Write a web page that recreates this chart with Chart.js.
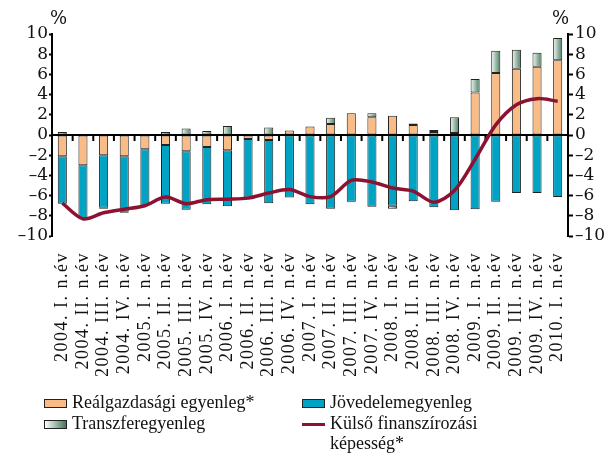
<!DOCTYPE html>
<html>
<head>
<meta charset="utf-8">
<script src="https://cdn.jsdelivr.net/npm/chart.js@4"></script>
<style>
  body { margin: 0; background: #fff; }
  #wrap { position: relative; width: 611px; height: 456px; }
  #legend { position: absolute; left: 0; top: 392px; width: 611px; font-family: "Liberation Serif", serif; font-size: 18px; color: #111; }
  .item { position: absolute; display: flex; align-items: flex-start; line-height: 20px; }
  .box { width: 21px; height: 7px; border: 1px solid #222; margin-top: 7px; margin-right: 5px; flex: none; }
  .ln { width: 23px; height: 3px; margin-top: 10px; margin-right: 5px; flex: none; }
</style>
</head>
<body>
<div id="wrap">
  <canvas id="chart" width="611" height="456"></canvas>
  <div id="legend"></div>
</div>
<script>
const quarters = ["2004. I. n.év", "2004. II. n.év", "2004. III. n.év", "2004. IV. n.év",
    "2005. I. n.év", "2005. II. n.év", "2005. III. n.év", "2005. IV. n.év",
    "2006. I. n.év", "2006. II. n.év", "2006. III. n.év", "2006. IV. n.év",
    "2007. I. n.év", "2007. II. n.év", "2007. III. n.év", "2007. IV. n.év",
    "2008. I. n.év", "2008. II. n.év", "2008. III. n.év", "2008. IV. n.év",
    "2009. I. n.év", "2009. II. n.év", "2009. III. n.év", "2009. IV. n.év",
    "2010. I. n.év"];

const realgazdasagi = [-2.1, -3.0, -2.0, -2.1, -1.4, -1.0, -1.6, -1.2, -1.5, -0.4, -0.5, 0.45, 0.85,
    1.1, 2.15, 1.75, 1.9, 1.0, 0.3, 0.2, 4.2, 6.15, 6.55, 6.75, 7.4];
const jovedelem = [-4.7, -5.25, -5.2, -5.5, -5.65, -5.8, -5.8, -5.65, -5.55, -5.8, -6.25, -6.2, -6.85,
    -7.3, -6.6, -7.1, -7.0, -6.55, -7.15, -7.45, -7.35, -6.6, -5.75, -5.75, -6.15];
const transzfer = [0.3, -0.1, -0.1, -0.1, 0.05, 0.3, 0.65, 0.4, 0.9, 0, 0.75, 0, 0,
    0.6, -0.05, 0.4, -0.3, 0.15, 0.2, 1.55, 1.35, 2.2, 1.9, 1.4, 2.2];
const kulsoFin = [-6.75, -8.3, -7.7, -7.35, -7.0, -6.15, -6.8, -6.4, -6.35, -6.25, -5.75, -5.4, -6.1,
    -6.1, -4.5, -4.65, -5.25, -5.55, -6.65, -5.5, -2.4, 1.0, 3.0, 3.6, 3.35];

const yTicks = [-10, -8, -6, -4, -2, 0, 2, 4, 6, 8, 10];

const orange = '#F9BC86';
const blue = '#00A3C4';
const green = '#3f7a58';
const lineRed = '#8C1232';
const edge = '#222';

// white -> green gradient across each transfer bar
function transferFill(ctx) {
    const chart = ctx.chart;
    const xs = chart.scales.x;
    if (!xs || ctx.dataIndex === undefined) return '#9fc2ad';
    const cx = xs.getPixelForValue(ctx.dataIndex);
    if (!isFinite(cx)) return '#9fc2ad';
    const g = chart.ctx.createLinearGradient(cx - 5, 0, cx + 5, 0);
    g.addColorStop(0, '#ffffff');
    g.addColorStop(1, green);
    return g;
}

const tickFont = { family: 'DejaVu Serif', size: 17 };

const extras = {
    id: 'extras',
    afterLayout(chart) {
        // quarter labels in the original are set a little loose
        const xs = chart.scales.x;
        if (xs._loose) return;
        const orig = xs.drawLabels;
        xs.drawLabels = function (area) {
            this.ctx.save();
            this.ctx.letterSpacing = '1.5px';
            orig.call(this, area);
            this.ctx.restore();
        };
        xs._loose = true;
    },
    afterDatasetDraw(chart, args) {
        // zero line over the bars, before the line series
        if (args.index !== 0) return;
        const c = chart.ctx;
        const a = chart.chartArea;
        const xs = chart.scales.x;
        const y0 = chart.scales.y.getPixelForValue(0);
        c.save();
        c.strokeStyle = '#000';
        c.lineWidth = 2;
        c.beginPath();
        c.moveTo(a.left, y0);
        c.lineTo(a.right, y0);
        c.stroke();
        for (let i = 0; i < quarters.length - 1; i++) {
            const bx = (xs.getPixelForValue(i) + xs.getPixelForValue(i + 1)) / 2;
            c.beginPath();
            c.moveTo(bx, y0);
            c.lineTo(bx, y0 + 6);
            c.stroke();
        }
        c.restore();
    },
    afterDraw(chart) {
        const c = chart.ctx;
        const a = chart.chartArea;
        c.save();
        c.fillStyle = '#111';
        c.font = '18px "DejaVu Serif"';
        c.textBaseline = 'bottom';
        c.textAlign = 'left';
        c.fillText('%', a.left - 2, a.top - 6);
        c.textAlign = 'right';
        c.fillText('%', a.right + 1, a.top - 6);
        c.restore();
    }
};

const dashLabel = v => (v < 0 ? '\u2013' + Math.abs(v) : String(v));

const chart = new Chart(document.getElementById('chart'), {
    data: {
        labels: quarters,
        datasets: [
            { type: 'bar', label: 'Reálgazdasági egyenleg*', data: realgazdasagi, backgroundColor: orange,
              borderColor: edge, borderWidth: 1, borderSkipped: false, stack: 'bars', order: 1 },
            { type: 'bar', label: 'Jövedelemegyenleg', data: jovedelem, backgroundColor: blue,
              borderColor: edge, borderWidth: 1, borderSkipped: false, stack: 'bars', order: 1 },
            { type: 'bar', label: 'Transzferegyenleg', data: transzfer, backgroundColor: transferFill,
              borderColor: edge, borderWidth: 1, borderSkipped: false, stack: 'bars', order: 1 },
            { type: 'line', label: 'Külső finanszírozási képesség*', data: kulsoFin, borderColor: lineRed,
              backgroundColor: lineRed, borderWidth: 3.5, pointRadius: 0, tension: 0.3, fill: false,
              stack: 'line', order: 0 }
        ]
    },
    options: {
        responsive: false,
        animation: false,
        layout: { padding: { top: 34, bottom: 80, left: 0, right: 0 } },
        datasets: { bar: { categoryPercentage: 1, barPercentage: 0.44 } },
        plugins: { legend: { display: false }, tooltip: { enabled: false } },
        scales: {
            x: {
                stacked: true,
                grid: { display: false },
                border: { display: false },
                ticks: {
                    autoSkip: false, maxRotation: 90, minRotation: 90, padding: 8,
                    color: '#111', font: { family: 'Liberation Serif', size: 18 }
                },
                afterFit(s) { s.height = 140; }
            },
            y: {
                stacked: true,
                position: 'left',
                min: -10, max: 10,
                afterBuildTicks(s) { s.ticks = yTicks.map(v => ({ value: v })); },
                ticks: { autoSkip: false, color: '#111', font: tickFont, padding: 1, callback: dashLabel },
                grid: {
                    drawOnChartArea: false,
                    tickColor: '#000', tickLength: 3, tickWidth: 2
                },
                border: { color: '#000', width: 2 },
                afterFit(s) { s.width = 52; }
            },
            y2: {
                position: 'right',
                min: -10, max: 10,
                afterBuildTicks(s) { s.ticks = yTicks.map(v => ({ value: v })); },
                ticks: { autoSkip: false, color: '#111', font: tickFont, padding: 2, callback: dashLabel },
                grid: { drawOnChartArea: false, tickColor: '#000', tickLength: 5, tickWidth: 2 },
                border: { color: '#000', width: 2 },
                afterFit(s) { s.width = 43; }
            }
        }
    },
    plugins: [extras]
});
// first frame was painted before the label spacing hook existed
chart.draw();

// legend built from the datasets, two columns like the original
const legendPos = [
    { left: 44, top: 0, width: 240 },
    { left: 302, top: 0, width: 240 },
    { left: 44, top: 21, width: 240 },
    { left: 302, top: 21, width: 200 }
];
const legendEl = document.getElementById('legend');
chart.data.datasets.forEach((ds, i) => {
    const item = document.createElement('div');
    item.className = 'item';
    const p = legendPos[i];
    item.style.left = p.left + 'px';
    item.style.top = p.top + 'px';
    item.style.width = p.width + 'px';
    const mark = document.createElement('span');
    if (ds.type === 'line') {
        mark.className = 'ln';
        mark.style.background = ds.borderColor;
    } else {
        mark.className = 'box';
        mark.style.background = typeof ds.backgroundColor === 'string'
            ? ds.backgroundColor : 'linear-gradient(to right, #ffffff, ' + green + ')';
    }
    const txt = document.createElement('span');
    txt.textContent = ds.label;
    item.appendChild(mark);
    item.appendChild(txt);
    legendEl.appendChild(item);
});
</script>
</body>
</html>
